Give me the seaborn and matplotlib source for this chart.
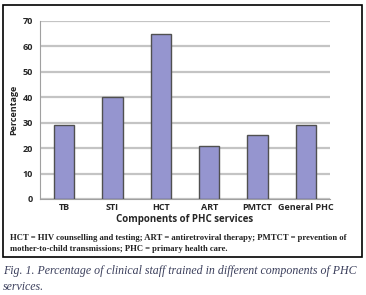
import matplotlib
matplotlib.use('Agg')
import matplotlib.pyplot as plt
import seaborn as sns
import pandas as pd
from matplotlib.patches import Rectangle

# data
components = ['TB', 'STI', 'HCT', 'ART', 'PMTCT', 'General PHC']
percentages = [29, 40, 65, 21, 25, 29]
y_ticks = [0, 10, 20, 30, 40, 50, 60, 70]

df = pd.DataFrame({'component': components, 'pct': percentages})

sns.set_style('white')
plt.rcParams['font.family'] = ['Open Sans', 'DejaVu Sans']

fig = plt.figure(figsize=(3.66, 2.95), dpi=100)
ax = fig.add_axes([40 / 366, 1 - 199 / 295, 290 / 366, 178 / 295])

sns.barplot(data=df, x='component', y='pct', color='#9595cf', width=0.42,
            edgecolor='#505050', linewidth=1.0, saturation=1, ax=ax, zorder=3)

ax.set_ylim(0, 70)
ax.set_yticks(y_ticks)
ax.yaxis.grid(True, color='#c4c4c4', linewidth=1.6, zorder=0)
ax.set_axisbelow(True)
for s in ['top', 'right']:
    ax.spines[s].set_visible(False)
ax.spines['left'].set_color('#a0a0a0')
ax.spines['bottom'].set_color('#a0a0a0')
ax.tick_params(axis='y', length=3, width=0.8, color='#a0a0a0', pad=2, labelsize=6.5)
ax.tick_params(axis='x', which='major', length=0, pad=3, labelsize=6.5)
ax.set_xticks([i + 0.5 for i in range(-1, len(components))], minor=True)
ax.tick_params(axis='x', which='minor', length=3, width=0.8, color='#a0a0a0')
for lab in ax.get_xticklabels() + ax.get_yticklabels():
    lab.set_fontweight('bold')
ax.set_xlim(-0.5, 5.5)
ax.set_ylabel('Percentage', fontsize=6.5, fontweight='bold', labelpad=3)
ax.set_xlabel('Components of PHC services', fontsize=7, fontweight='bold', labelpad=1)

# box around figure area
fig.patches.append(Rectangle((3 / 366, 1 - 257 / 295), 359 / 366, 252 / 295,
                             transform=fig.transFigure, fill=False,
                             edgecolor='black', linewidth=1.2))

fig.text(10 / 366, 1 - 238 / 295,
         'HCT = HIV counselling and testing; ART = antiretroviral therapy; PMTCT = prevention of',
         fontsize=6.2, fontweight='bold', family='Liberation Serif', va='center', color='#222222')
fig.text(10 / 366, 1 - 249 / 295,
         'mother-to-child transmissions; PHC = primary health care.',
         fontsize=6.2, fontweight='bold', family='Liberation Serif', va='center', color='#222222')
fig.text(3 / 366, 1 - 271 / 295,
         'Fig. 1. Percentage of clinical staff trained in different components of PHC',
         fontsize=8.6, style='italic', family='Liberation Serif', va='center', color='#3b3f5c')
fig.text(3 / 366, 1 - 287 / 295, 'services.',
         fontsize=8.6, style='italic', family='Liberation Serif', va='center', color='#3b3f5c')

fig.savefig('out.png', dpi=100)
